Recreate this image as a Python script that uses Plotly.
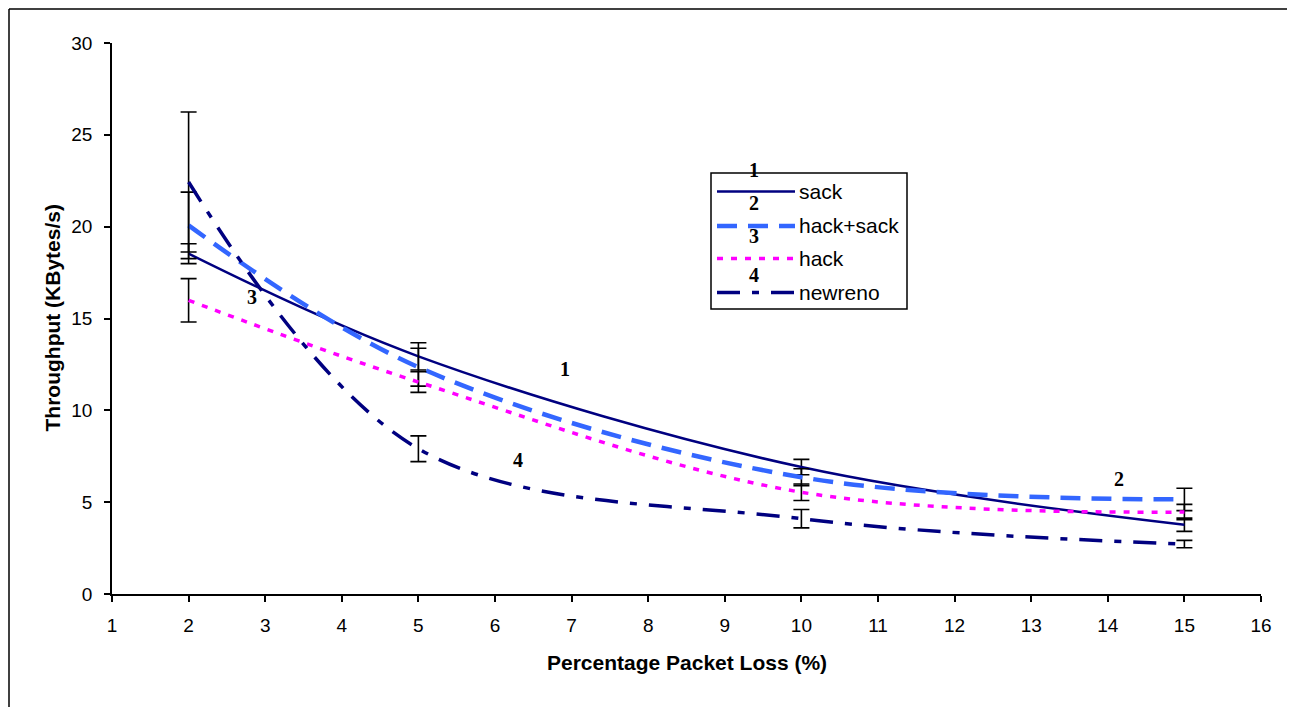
import plotly.graph_objects as go

# ---------------- data ----------------
loss_pct = [2, 5, 10, 15]

series_names = ["sack", "hack+sack", "hack", "newreno"]
sack = [18.53, 12.94, 6.91, 3.77]
hack_sack = [20.07, 12.35, 6.36, 5.15]
hack = [15.99, 11.54, 5.54, 4.46]
newreno = [22.43, 7.91, 4.10, 2.72]

sack_err = [0.54, 0.74, 0.42, 0.36]
hack_sack_err = [1.81, 1.03, 0.46, 0.61]
hack_err = [1.18, 0.56, 0.45, 0.42]
newreno_err = [3.81, 0.70, 0.50, 0.20]

curve_labels = ["1", "2", "3", "4"]
curve_label_x = [6.92, 14.14, 2.83, 6.30]
curve_label_y = [12.23, 6.24, 16.15, 7.27]

x_ticks = list(range(1, 17))
y_ticks = [0, 5, 10, 15, 20, 25, 30]

# ---------------- styles ----------------
OFF = 8  # default page body margin
W, H = 1295 - OFF, 707 - OFF
L, R, T, B = 112 - OFF, 1261 - OFF, 43 - OFF, 594 - OFF
colors = ["#000080", "#3366FF", "#FF00FF", "#000080"]
widths = [2.5, 4.5, 3.5, 3.5]
dashes = ["solid", "20px,11px", "6px,8px", "23px,12px,7px,12px"]

values = [sack, hack_sack, hack, newreno]
errors = [sack_err, hack_sack_err, hack_err, newreno_err]


def px_x(p):
    return (p - OFF - L) / (R - L)


def px_y(p):
    return (B - (p - OFF)) / (B - T)


def fig_x(p):
    return (p - L) / (R - L)


def fig_y(p):
    return (B - p) / (B - T)


fig = go.Figure()
for name, vals, errs, c, w, d in zip(series_names, values, errors, colors, widths, dashes):
    fig.add_trace(go.Scatter(
        x=loss_pct, y=vals, name=name, mode="lines",
        line=dict(color=c, width=w, dash=d, shape="spline", smoothing=1.0),
        error_y=dict(type="data", array=errs, visible=True, color="black",
                     thickness=1.6, width=8),
        showlegend=False,
    ))

annotations = []
for t, x, y in zip(curve_labels, curve_label_x, curve_label_y):
    annotations.append(dict(x=x, y=y, xref="x", yref="y", text="<b>%s</b>" % t,
                            showarrow=False, xanchor="center", yanchor="middle",
                            font=dict(family="Liberation Serif", size=20, color="black")))

# axis titles
annotations.append(dict(x=0.5, y=px_y(662), xref="paper", yref="paper",
                        xanchor="center", yanchor="middle",
                        text="<b>Percentage Packet Loss (%)</b>", showarrow=False,
                        font=dict(family="Liberation Sans", size=21, color="black")))
annotations.append(dict(x=px_x(52), y=0.5, xref="paper", yref="paper",
                        xanchor="center", yanchor="middle",
                        text="<b>Throughput (KBytes/s)</b>", showarrow=False, textangle=-90,
                        font=dict(family="Liberation Sans", size=21, color="black")))

shapes = []
# outer frame (top and left edges visible)
shapes.append(dict(type="line", xref="paper", yref="paper",
                   x0=fig_x(1), x1=fig_x(W + 5), y0=fig_y(1), y1=fig_y(1),
                   line=dict(color="black", width=1.5)))
shapes.append(dict(type="line", xref="paper", yref="paper",
                   x0=fig_x(1), x1=fig_x(1), y0=fig_y(1), y1=fig_y(H + 5),
                   line=dict(color="black", width=1.5)))
# legend box
shapes.append(dict(type="rect", xref="paper", yref="paper",
                   x0=px_x(711), x1=px_x(907), y0=px_y(309), y1=px_y(173),
                   line=dict(color="black", width=1.5), fillcolor="white"))
leg_y = [191.5, 226, 258.5, 292.5]
leg_num_y = [170, 203, 236, 275]
for i, name in enumerate(series_names):
    shapes.append(dict(type="line", xref="paper", yref="paper",
                       x0=px_x(717), x1=px_x(795), y0=px_y(leg_y[i]), y1=px_y(leg_y[i]),
                       line=dict(color=colors[i], width=widths[i], dash=dashes[i])))
    annotations.append(dict(x=px_x(797), y=px_y(leg_y[i]), xref="paper", yref="paper",
                            xanchor="left", yanchor="middle", text=name, showarrow=False,
                            font=dict(family="Liberation Sans", size=21, color="black")))
    annotations.append(dict(x=px_x(754), y=px_y(leg_num_y[i]), xref="paper", yref="paper",
                            xanchor="center", yanchor="middle",
                            text="<b>%s</b>" % curve_labels[i], showarrow=False,
                            font=dict(family="Liberation Serif", size=20, color="black")))

fig.update_layout(
    width=W, height=H,
    margin=dict(l=L, r=W - R, t=T, b=H - B),
    paper_bgcolor="white", plot_bgcolor="white",
    font=dict(family="Liberation Sans", size=19, color="black"),
    xaxis=dict(range=[1, 16], tickvals=x_ticks, ticktext=[str(v) for v in x_ticks],
               showgrid=False, zeroline=False, showline=True, linecolor="black", linewidth=1.5,
               ticks="outside", ticklen=6, tickwidth=1.5, tickcolor="black",
               ticklabelstandoff=7, tickfont=dict(size=19)),
    yaxis=dict(range=[0, 30], tickvals=y_ticks, ticktext=[str(v) for v in y_ticks],
               showgrid=False, zeroline=False, showline=True, linecolor="black", linewidth=1.5,
               ticks="outside", ticklen=6, tickwidth=1.5, tickcolor="black",
               ticklabelstandoff=8, tickfont=dict(size=19)),
    shapes=shapes,
    annotations=annotations,
    showlegend=False,
)

fig.write_html("out.html")
